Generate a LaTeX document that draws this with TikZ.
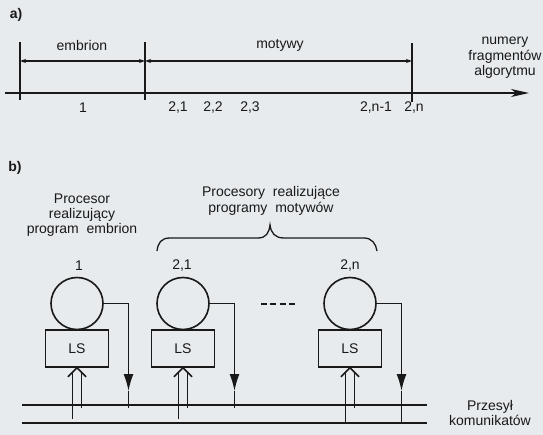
\documentclass[tikz,border=0pt]{standalone}
\usepackage{fontspec}
\setmainfont{Liberation Sans}
\usetikzlibrary{arrows.meta}
\definecolor{ink}{RGB}{25,25,25}
\definecolor{paper}{RGB}{231,235,238}
\begin{document}
\begin{tikzpicture}[x=1pt,y=-1pt, color=ink,
  lbl/.style={font=\fontsize{14}{15}\selectfont, inner sep=0pt, text=ink, align=center},
  tag/.style={font=\fontsize{14}{15}\selectfont\bfseries, inner sep=0pt, text=ink},
  proc/.style={circle, draw=ink, line width=1.6pt, minimum size=52pt, inner sep=0pt},
  lsbox/.style={rectangle, draw=ink, line width=1.6pt, minimum width=63pt, minimum height=37pt, inner sep=0pt, font=\fontsize{14}{15}\selectfont, text=ink},
  thick line/.style={draw=ink, line width=1.6pt},
  dimline/.style={draw=ink, line width=1.3pt, {Stealth[length=6pt,width=4pt]}-{Stealth[length=6pt,width=4pt]}},
  outarrow/.style={draw=ink, line width=1.6pt, -{Latex[length=17pt,width=10pt,fill=ink]}},
]
\fill[paper] (0,0) rectangle (543,435);
\useasboundingbox (0,0) rectangle (543,435);

% ---------- a) ----------
\node[tag] (ta) at (16,15) {a)};
\coordinate (v1t) at (20,42);  \coordinate (v1b) at (20,100);
\coordinate (v2t) at (145,42); \coordinate (v2b) at (145,100);
\coordinate (v3t) at (412,43); \coordinate (v3b) at (412,102);
\draw[thick line] (v1t) -- (v1b);
\draw[thick line] (v2t) -- (v2b);
\draw[thick line] (v3t) -- (v3b);
\coordinate (d1) at (20,61); \coordinate (d2) at (145,61); \coordinate (d3) at (412,61);
\draw[dimline] (d1) -- (d2);
\draw[dimline] (d2) -- (d3);
\coordinate (ax0) at (5,93); \coordinate (ax1) at (529,93);
\draw[thick line, -{Stealth[length=18pt,width=8pt,inset=5pt]}] (ax0) -- (ax1);
\node[lbl] (emb) at (82,46) {embrion};
\node[lbl] (mot) at (280,45) {motywy};
\node[lbl, font=\fontsize{14}{15.5}\selectfont] (num) at (505,58) {numery\\fragmentów\\algorytmu};
\node[lbl] (n1)  at (83,108)  {1};
\node[lbl] (n21) at (178,108) {2,1};
\node[lbl] (n22) at (213,108) {2,2};
\node[lbl] (n23) at (250,108) {2,3};
\node[lbl] (n2m) at (376,108) {2,n-1};
\node[lbl] (n2n) at (414,108) {2,n};

% ---------- b) ----------
\node[tag] (tb) at (15,168) {b)};
\node[lbl] (pemb) at (82,215) {Procesor\\realizujący\\program\ \ embrion};
\node[lbl, font=\fontsize{14}{16}\selectfont] (pmot) at (271,201) {Procesory\ \ realizujące\\programy\ \ motywów};
\draw[draw=ink, line width=1.3pt] (157,251) .. controls (158,243) and (161,238) .. (170,238) -- (258,238)
  .. controls (266,238) and (269,233) .. (270,225)
  .. controls (271,233) and (275,238) .. (284,238) -- (364,238)
  .. controls (372,238) and (376,244) .. (377,251);

\node[lbl] (l1) at (79,266) {1};
\node[lbl] (l2) at (182,266) {2,1};
\node[lbl] (ln) at (350,266) {2,n};

\node[proc] (c1) at (77,303.5) {};
\node[proc] (c2) at (183,303.5) {};
\node[proc] (cn) at (350,303.5) {};
\node[lsbox] (ls1) at (77,348.5) {LS};
\node[lsbox] (ls2) at (183,348.5) {LS};
\node[lsbox] (lsn) at (350,348.5) {LS};

% buses
\coordinate (bu1) at (22,405); \coordinate (bu2) at (427,405);
\coordinate (bl1) at (22,423); \coordinate (bl2) at (427,423);
\draw[thick line] (bu1) -- (bu2);
\draw[thick line] (bl1) -- (bl2);
\node[lbl, font=\fontsize{14}{14.5}\selectfont] (prz) at (490,413) {Przesył\\komunikatów};

% outputs of processors
\coordinate (a1) at (128.5,391); \coordinate (e1) at (128.5,408);
\coordinate (a2) at (234.5,391); \coordinate (e2) at (234.5,408);
\coordinate (an) at (401.5,391); \coordinate (en) at (401.5,422);
\draw[outarrow] (c1.east) -| (a1); \draw[thick line] (a1) -- (e1);
\draw[outarrow] (c2.east) -| (a2); \draw[thick line] (a2) -- (e2);
\draw[outarrow] (cn.east) -| (an); \draw[thick line] (an) -- (en);

% double input arrows into LS
\foreach \b/\lo in {ls1/419, ls2/419, lsn/424}{
  \draw[thick line] (\b.south) ++(-9,9) -- (\b.south) -- ++(9,9);
  \draw[thick line] (\b.south) ++(-4.5,4.5) coordinate (tmpl) -- (tmpl |- 0,\lo);
  \draw[thick line] (\b.south) ++(4.5,4.5) coordinate (tmpr) -- (tmpr |- 0,408);
}

% continuation dashes
\coordinate (ds) at (261,304); \coordinate (de) at (295,304);
\draw[thick line, dash pattern=on 6pt off 3.4pt] (ds) -- (de);
\end{tikzpicture}
\end{document}
